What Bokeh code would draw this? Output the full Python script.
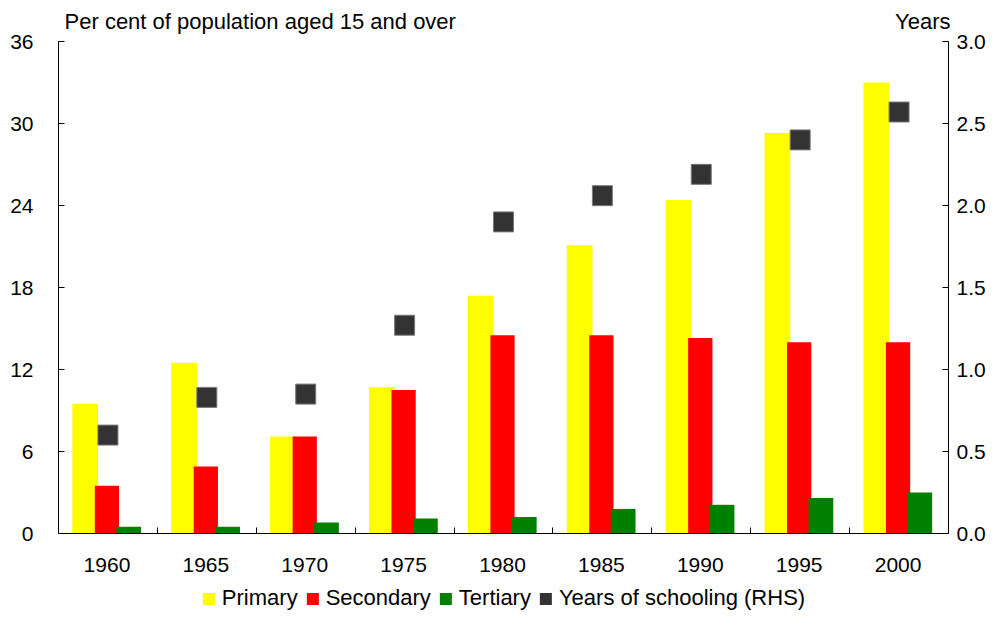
from bokeh.plotting import figure
from bokeh.layouts import column
from bokeh.models import (Range1d, LinearAxis, FixedTicker, PrintfTickFormatter,
                          Legend, LegendItem, ColumnDataSource)
from bokeh.embed import file_html
from bokeh.resources import INLINE

years = ["1960", "1965", "1970", "1975", "1980", "1985", "1990", "1995", "2000"]
primary = [9.5, 12.5, 7.1, 10.7, 17.4, 21.1, 24.4, 29.3, 33.0]
secondary = [3.5, 4.9, 7.1, 10.5, 14.5, 14.5, 14.3, 14.0, 14.0]
tertiary = [0.5, 0.5, 0.8, 1.1, 1.2, 1.8, 2.1, 2.6, 3.0]
schooling = [0.60, 0.83, 0.85, 1.27, 1.90, 2.06, 2.19, 2.40, 2.57]
left_ticks = [0, 6, 12, 18, 24, 30, 36]
right_ticks = [0.0, 0.5, 1.0, 1.5, 2.0, 2.5, 3.0]
left_title = "Per cent of population aged 15 and over"
right_title = "Years"
series_names = ["Primary", "Secondary", "Tertiary", "Years of schooling (RHS)"]
series_colors = ["#FFFF00", "#FF0000", "#008000", "#333333"]

FONT = "Liberation Sans"
FS = "21px"
centers = [i + 0.49 for i in range(len(years))]

src = ColumnDataSource(dict(
    x_p=[c - 0.22 for c in centers],
    x_s=[c for c in centers],
    x_t=[c + 0.22 for c in centers],
    x_sq=[c + 0.01 for c in centers],
    primary=primary, secondary=secondary, tertiary=tertiary, schooling=schooling,
))

p = figure(width=988, height=583, output_backend="svg", toolbar_location=None,
           x_range=Range1d(0, 9), y_range=Range1d(0, 36),
           min_border_left=58, min_border_right=38, min_border_top=41,
           min_border_bottom=50, x_axis_location=None, y_axis_location=None)
p.outline_line_color = None
p.grid.visible = False
p.extra_y_ranges = {"rhs": Range1d(0, 3)}

p.vbar(x="x_p", top="primary", width=0.26, bottom=0, source=src,
       fill_color=series_colors[0], line_color=None)
p.vbar(x="x_s", top="secondary", width=0.245, bottom=0, source=src,
       fill_color=series_colors[1], line_color=None)
p.vbar(x="x_t", top="tertiary", width=0.25, bottom=0, source=src,
       fill_color=series_colors[2], line_color=None)
p.scatter(x="x_sq", y="schooling", y_range_name="rhs", source=src, marker="square",
          size=20, fill_color=series_colors[3], line_color="#7a7a7a", line_width=1)


def style(ax, standoff):
    ax.major_label_standoff = standoff
    ax.major_label_text_font = FONT
    ax.major_label_text_font_size = FS
    ax.major_label_text_color = "black"
    ax.axis_line_color = "black"
    ax.major_tick_line_color = "black"
    ax.minor_tick_line_color = "black"


# x axis: labels at category centres, short inward ticks between categories
xax = LinearAxis()
xax.ticker = FixedTicker(ticks=centers, minor_ticks=[1, 2, 3, 4, 5, 6, 7, 8])
xax.major_label_overrides = {c: y for c, y in zip(centers, years)}
xax.major_tick_in = 0
xax.major_tick_out = 0
xax.minor_tick_in = 6
xax.minor_tick_out = 0
style(xax, 24)
p.add_layout(xax, "below")

# top "axis" used only to carry the two unit captions
tax = LinearAxis()
tpos = [2.04, 8.74]
tax.ticker = FixedTicker(ticks=tpos, minor_ticks=[])
tax.major_label_overrides = {tpos[0]: left_title, tpos[1]: right_title}
tax.major_tick_in = 0
tax.major_tick_out = 0
style(tax, 8)
tax.axis_line_color = None
tax.major_label_text_font_size = "22px"
p.add_layout(tax, "above")

# left axis
lax = LinearAxis()
lax.ticker = FixedTicker(ticks=left_ticks, minor_ticks=[])
lax.major_tick_in = 6
lax.major_tick_out = 0
style(lax, 25)
p.add_layout(lax, "left")

# right axis
rax = LinearAxis(y_range_name="rhs")
rax.ticker = FixedTicker(ticks=right_ticks, minor_ticks=[])
rax.formatter = PrintfTickFormatter(format="%.1f")
rax.major_tick_in = 6
rax.major_tick_out = 0
style(rax, 8)
p.add_layout(rax, "right")

# legend strip below the chart
lf = figure(width=988, height=28, output_backend="svg", toolbar_location=None,
            x_range=Range1d(0, 9), y_range=Range1d(0, 1),
            min_border_left=12, min_border_right=0, min_border_top=0, min_border_bottom=0,
            x_axis_location=None, y_axis_location=None)
lf.outline_line_color = None
lf.grid.visible = False
items = []
for name, col in zip(series_names, series_colors):
    r = lf.vbar(x="x_s", top=0, bottom=0, width=0.01, source=src,
                fill_color=col, line_color=None)
    items.append(LegendItem(label=name, renderers=[r]))
legend = Legend(items=items, orientation="horizontal", location="bottom",
                border_line_color=None, background_fill_alpha=0, padding=0, margin=0,
                spacing=7, label_standoff=6, glyph_width=15, glyph_height=15,
                label_text_font=FONT, label_text_font_size="22px", label_height=22,
                label_text_color="black")
lf.add_layout(legend, "center")

open("out.html", "w").write(file_html(column(p, lf, spacing=0), INLINE))
